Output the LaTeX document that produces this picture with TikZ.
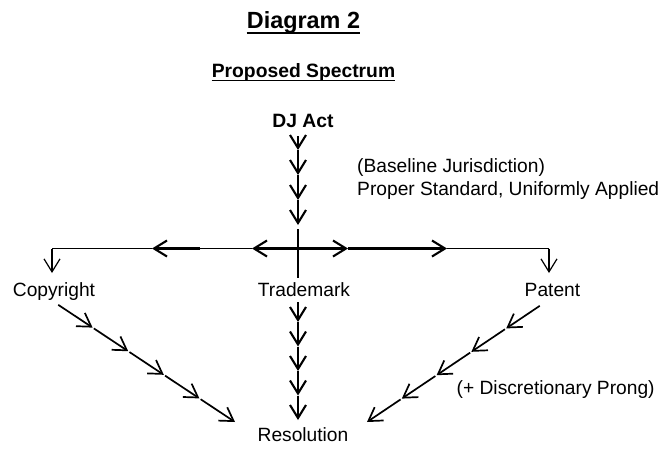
\documentclass[tikz,border=0pt]{standalone}
\usepackage{fontspec}
\setmainfont{Liberation Sans}
\usetikzlibrary{arrows.meta,calc}
\begin{document}
\begin{tikzpicture}[x=1pt,y=-1pt,
  txt/.style={inner sep=0pt, anchor=base, font=\fontsize{19.2}{19.2}\selectfont},
  btxt/.style={inner sep=0pt, anchor=base, font=\fontsize{19.3}{19.3}\selectfont\bfseries},
  heavy/.style={line width=2.1pt},
  light/.style={line width=1.2pt},
  diag/.style={line width=1.7pt},
  tip/.style={-{Straight Barb[length=13pt,width=16pt]}},
]
\useasboundingbox (0,0) rectangle (665,448);
% titles
\node[inner sep=0pt, anchor=base, font=\fontsize{23.4}{23.4}\selectfont\bfseries] (title) at (303.5,28) {Diagram 2};
\draw[line width=2pt] ($(title.base west)+(0,4.5)$) -- ($(title.base east)+(0,4.5)$);
\node[btxt] (spec) at (303.5,77.5) {Proposed Spectrum};
\draw[line width=1.5pt] ($(spec.base west)+(0,3)$) -- ($(spec.base east)+(0,3)$);
% labels
\node[btxt] (dj) at (303,127) {DJ Act};
\node[txt, anchor=base west] (base) at (357,172) {(Baseline Jurisdiction)};
\node[txt, anchor=base west] (proper) at (357,195) {Proper Standard, Uniformly Applied};
\node[txt] (copy) at (54,296.7) {Copyright};
\node[txt] (tm) at (304,296.7) {Trademark};
\node[txt] (pat) at (552.5,296.7) {Patent};
\node[txt] (res) at (303,441.7) {Resolution};
\node[txt, anchor=base west] (disc) at (456.5,394.5) {(+ Discretionary Prong)};
% coordinates
\coordinate (v0) at (298,136);
\coordinate (v1) at (298,150);
\coordinate (v2) at (298,175);
\coordinate (v3) at (298,200);
\coordinate (v4) at (298,225);
\coordinate (vt) at (298,229);
\coordinate (vb) at (298,278);
\coordinate (cross) at (298,248.5);
\coordinate (hl1) at (252,248.5);
\coordinate (hl1b) at (200,248.5);
\coordinate (hl2) at (152,248.5);
\coordinate (cl) at (52,248.5);
\coordinate (cld) at (52,273);
\coordinate (hr1) at (348,248.5);
\coordinate (hr2) at (447,248.5);
\coordinate (cr) at (549,248.5);
\coordinate (crd) at (549,273);
\coordinate (c0) at (57,304);
\coordinate (c5) at (235,422);
\coordinate (p0) at (541,305);
\coordinate (p5) at (367,422);
\coordinate (t0) at (298,302);
\coordinate (t1) at (298,322);
\coordinate (t2) at (298,346.5);
\coordinate (t3) at (298,371);
\coordinate (t4) at (298,395.5);
\coordinate (t5) at (298,420);
% top chain
\draw[heavy,tip] (v0) -- (v1);
\draw[heavy,tip] (v1) -- (v2);
\draw[heavy,tip] (v2) -- (v3);
\draw[heavy,tip] (v3) -- (v4);
\draw[light] (vt) -- (vb);
% horizontal bar
\draw[heavy,tip] (cross) -- (hl1);
\draw[light] (hl1) -- (hl1b);
\draw[heavy,tip] (hl1b) -- (hl2);
\draw[light] (hl2) -- (cl);
\draw[light,tip] (cl) -- (cld);
\draw[heavy,tip] (cross) -- (hr1);
\draw[heavy,tip] (hr1) -- (hr2);
\draw[light] (hr2) -- (cr);
\draw[light,tip] (cr) -- (crd);
% trademark chain
\draw[heavy,tip] (t0) -- (t1);
\draw[heavy,tip] (t1) -- (t2);
\draw[heavy,tip] (t2) -- (t3);
\draw[heavy,tip] (t3) -- (t4);
\draw[heavy,tip] (t4) -- (t5);
% diagonal chains
\foreach \i in {1,...,5}{
  \draw[diag,tip,shorten <=1.5pt] ($(c0)!{(\i-1)/5}!(c5)$) -- ($(c0)!{\i/5}!(c5)$);
  \draw[diag,tip,shorten <=1.5pt] ($(p0)!{(\i-1)/5}!(p5)$) -- ($(p0)!{\i/5}!(p5)$);
}
\end{tikzpicture}
\end{document}
